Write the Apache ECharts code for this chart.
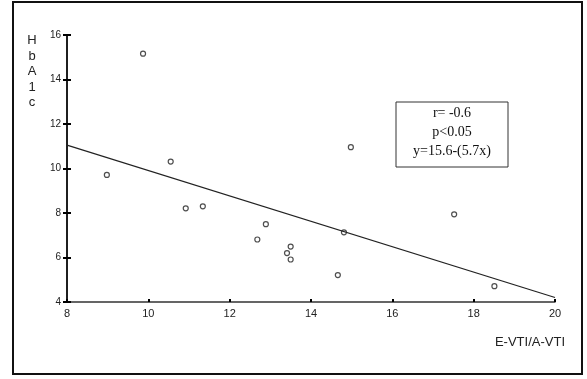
<!DOCTYPE html>
<html>
<head>
<meta charset="utf-8">
<style>
html,body{margin:0;padding:0;background:#fff;}
#chart{width:587px;height:379px;}
</style>
<script src="https://cdn.jsdelivr.net/npm/echarts@6/dist/echarts.min.js"></script>
</head>
<body>
<div id="chart"></div>
<script>
// E-VTI/A-VTI values
const ratioValues = [9.87, 8.98, 10.55, 10.92, 11.34, 12.89, 12.68, 13.50, 13.41, 13.50, 14.66, 14.98, 14.81, 17.52, 18.51];
// HbA1c values
const hba1cValues = [15.16, 9.71, 10.31, 8.21, 8.30, 7.50, 6.81, 6.49, 6.20, 5.91, 5.21, 10.96, 7.13, 7.94, 4.71];
// regression line end points
const lineX = [8, 20];
const lineY = [11.05, 4.2];
const xTicks = [8, 10, 12, 14, 16, 18, 20];
const yTicks = [4, 6, 8, 10, 12, 14, 16];
const statsLines = ['r= -0.6', 'p<0.05', 'y=15.6-(5.7x)'];

const chart = echarts.init(document.getElementById('chart'));
const points = ratioValues.map((x, i) => [x, hba1cValues[i]]);
const lineData = lineX.map((x, i) => [x, lineY[i]]);

const yBase = {
  type: 'value', min: yTicks[0], max: yTicks[yTicks.length - 1], interval: 2,
  position: 'left',
  axisLine: {show: true, onZero: false, lineStyle: {color: '#111', width: 1.5}},
  splitLine: {show: false}
};

chart.setOption({
  animation: false,
  backgroundColor: '#fff',
  grid: {left: 67, top: 35, right: 32, bottom: 77},
  xAxis: {
    type: 'value', min: xTicks[0], max: xTicks[xTicks.length - 1], interval: 2,
    axisLine: {lineStyle: {color: '#333', width: 1.5}},
    axisTick: {show: true, inside: true, length: 3, lineStyle: {color: '#000', width: 2}},
    axisLabel: {color: '#222', fontSize: 11, fontFamily: 'Liberation Sans, Arial', margin: 6},
    splitLine: {show: false}
  },
  yAxis: [
    Object.assign({}, yBase, {
      axisTick: {show: true, length: 4, lineStyle: {color: '#000', width: 2}},
      axisLabel: {color: '#222', fontSize: 10, fontFamily: 'Liberation Sans, Arial', margin: 6}
    }),
    Object.assign({}, yBase, {
      axisTick: {show: true, inside: true, length: 4, lineStyle: {color: '#000', width: 2}},
      axisLabel: {show: false}
    })
  ],
  series: [
    {
      type: 'line', data: lineData, symbol: 'none',
      lineStyle: {color: '#222', width: 1.2}
    },
    {
      type: 'scatter', data: points, symbol: 'circle', symbolSize: 5,
      itemStyle: {color: '#fff', borderColor: '#222', borderWidth: 1.2}
    }
  ],
  graphic: [
    {type: 'rect', shape: {x: 13, y: 2, width: 569, height: 372}, style: {fill: 'none', stroke: '#111', lineWidth: 2}, z: 10},
    {type: 'rect', shape: {x: 396, y: 102, width: 112, height: 65}, style: {fill: '#fff', stroke: '#333', lineWidth: 1}, z: 10},
    {type: 'text', x: 452, y: 113, style: {text: statsLines[0], font: '14px "Liberation Serif", serif', fill: '#111', align: 'center', verticalAlign: 'middle'}, z: 11},
    {type: 'text', x: 452, y: 132, style: {text: statsLines[1], font: '14px "Liberation Serif", serif', fill: '#111', align: 'center', verticalAlign: 'middle'}, z: 11},
    {type: 'text', x: 452, y: 151, style: {text: statsLines[2], font: '14px "Liberation Serif", serif', fill: '#111', align: 'center', verticalAlign: 'middle'}, z: 11},
    {type: 'text', x: 32, y: 33, style: {text: 'H\nb\nA\n1\nc', font: '13px "Liberation Sans", Arial', fill: '#222', align: 'center', lineHeight: 15.5}, z: 11},
    {type: 'text', x: 565, y: 342, style: {text: 'E-VTI/A-VTI', font: '13px "Liberation Sans", Arial', fill: '#222', align: 'right', verticalAlign: 'middle'}, z: 11}
  ]
});
</script>
</body>
</html>
